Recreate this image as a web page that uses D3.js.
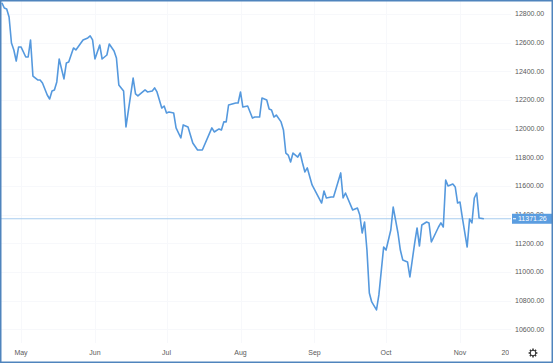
<!DOCTYPE html>
<html>
<head>
<meta charset="utf-8">
<script src="https://cdn.jsdelivr.net/npm/d3@7"></script>
<style>
  html, body { margin: 0; padding: 0; background: #fff; }
  svg { display: block; }
</style>
</head>
<body>
<svg id="chart"></svg>
<script>
(function() {

const W = 553, H = 363;
const lineColor = "#5599de";
const textColor = "#5a5a5a";

// closing values, one per reading (dates in 2021)
const dates = [
  "04-23","04-24","04-25","04-26","04-27","04-28","04-29","04-30",
  "05-01","05-03","05-04","05-05","05-06","05-08","05-09","05-10","05-12","05-13","05-14","05-15",
  "05-16","05-17","05-19","05-20","05-21","05-23","05-24","05-27","05-29","05-30","05-31",
  "06-01","06-03","06-04","06-06","06-07","06-09","06-10","06-11","06-13","06-14","06-17","06-18",
  "06-19","06-21","06-22","06-23","06-25","06-26","06-27","06-29","06-30",
  "07-01","07-02","07-04","07-05","07-07","07-08","07-10","07-12","07-14","07-16","07-20","07-21",
  "07-23","07-24","07-25","07-26","07-27","07-30","07-31",
  "08-01","08-02","08-04","08-06","08-07","08-09","08-10","08-12","08-13","08-14","08-15","08-16",
  "08-18","08-19","08-20","08-21","08-22","08-23","08-25","08-26","08-27","08-28","08-29","08-31",
  "09-04","09-05","09-06","09-08","09-09","09-12","09-13","09-14","09-17","09-19","09-20","09-21",
  "09-22","09-23","09-24","09-25","09-27","09-28","09-30",
  "10-01","10-03","10-04","10-06","10-07","10-08","10-10","10-11","10-13","10-14","10-15","10-16",
  "10-18","10-19","10-20","10-22","10-23","10-24","10-25","10-26","10-27","10-29","10-30","10-31",
  "11-01","11-02","11-04","11-05","11-06","11-07","11-08","11-09","11-11"
];
const closes = [
  12877,12842,12835,12779,12598,12549,12472,12570,
  12570,12500,12500,12619,12367,12340,12340,12319,12235,12207,12263,12270,
  12326,12486,12347,12458,12465,12563,12549,12619,12633,12647,12619,
  12486,12584,12486,12514,12591,12542,12493,12305,12263,12012,12353,12242,
  12228,12256,12270,12256,12263,12284,12256,12144,12158,
  12109,12116,12109,12005,11935,12026,12012,11900,11851,11851,12005,11977,
  11998,11991,12047,12047,12165,12179,12179,
  12256,12151,12158,12074,12081,12081,12214,12200,12137,12130,12081,12095,
  12047,11991,11830,11816,11767,11830,11802,11830,11760,11698,11726,11607,
  11481,11565,11516,11523,11523,11691,11516,11551,11433,11446,11398,11272,
  11349,11153,10853,10791,10735,10840,11174,
  11153,11293,11453,11272,11153,11084,11070,10965,11202,11307,11181,11328,
  11349,11342,11209,11279,11314,11342,11314,11642,11600,11614,11593,11481,
  11488,11377,11174,11370,11342,11516,11551,11377,11371.26
];

const priceTicks = [10600,10800,11000,11200,11400,11600,11800,12000,12200,12400,12600,12800];
const timeTicks = ["05-01","06-01","07-01","08-01","09-01","10-01","11-01","11-20"];
const timeLabels = ["May","Jun","Jul","Aug","Sep","Oct","Nov","20"];
const lastPrice = 11371.26;

const parse = d3.timeParse("%Y-%m-%d");
const data = dates.map((d, i) => ({ date: parse("2021-" + d), v: closes[i] }));

const svg = d3.select("#chart").attr("width", W).attr("height", H);

svg.append("rect").attr("width", W).attr("height", H).attr("fill", "#fff");

const paneRight = 511;

const x = d3.scaleTime()
    .domain([parse("2021-05-01"), parse("2021-11-01")])
    .range([21, 460]);
const y = d3.scaleLinear()
    .domain([10600, 12800])
    .range([329.3, 14]);

// grid (barely visible)
svg.append("g").selectAll("line")
    .data(priceTicks)
    .enter().append("line")
    .attr("x1", 0).attr("x2", paneRight)
    .attr("y1", d => Math.round(y(d)) + 0.5).attr("y2", d => Math.round(y(d)) + 0.5)
    .attr("stroke", "#f7f8fb");
svg.append("g").selectAll("line")
    .data(timeTicks.slice(0, 7))
    .enter().append("line")
    .attr("x1", d => Math.round(x(parse("2021-" + d))) + 0.5)
    .attr("x2", d => Math.round(x(parse("2021-" + d))) + 0.5)
    .attr("y1", 0).attr("y2", 343)
    .attr("stroke", "#f7f8fb");

// last price line
svg.append("line")
    .attr("x1", 0).attr("x2", paneRight)
    .attr("y1", y(lastPrice)).attr("y2", y(lastPrice))
    .attr("stroke", "#a9cdef")
    .attr("stroke-width", 1);

const line = d3.line()
    .x(d => x(d.date))
    .y(d => y(d.v));

svg.append("path")
    .datum(data)
    .attr("fill", "none")
    .attr("stroke", lineColor)
    .attr("stroke-width", 1.6)
    .attr("stroke-linejoin", "round")
    .attr("d", line);

// time axis labels (clipped by the price scale)
svg.append("clipPath").attr("id", "timeClip")
  .append("rect").attr("x", 0).attr("y", 340).attr("width", 509).attr("height", 20);

svg.append("g")
    .attr("clip-path", "url(#timeClip)")
    .selectAll("text")
    .data(timeTicks)
    .enter().append("text")
    .attr("x", d => x(parse("2021-" + d)))
    .attr("y", 353)
    .attr("dy", "0.35em")
    .attr("text-anchor", "middle")
    .attr("font-family", "Liberation Sans, Arial, sans-serif")
    .attr("font-size", "7px")
    .attr("fill", textColor)
    .text((d, i) => timeLabels[i]);

// price axis
svg.append("g").selectAll("text")
    .data(priceTicks)
    .enter().append("text")
    .attr("x", 515)
    .attr("y", d => y(d))
    .attr("dy", "0.35em")
    .attr("font-family", "Liberation Sans, Arial, sans-serif")
    .attr("font-size", "7px")
    .attr("fill", textColor)
    .text(d => d3.format(".2f")(d));

// last price tag
const ly = y(lastPrice);
svg.append("rect")
    .attr("x", 512).attr("y", ly - 5)
    .attr("width", 41).attr("height", 10)
    .attr("fill", "#5b9de0");
svg.append("line")
    .attr("x1", 513).attr("x2", 516)
    .attr("y1", ly).attr("y2", ly)
    .attr("stroke", "#fff");
svg.append("text")
    .attr("x", 518)
    .attr("y", ly)
    .attr("dy", "0.35em")
    .attr("font-family", "Liberation Sans, Arial, sans-serif")
    .attr("font-size", "7px")
    .attr("fill", "#fff")
    .text(d3.format(".2f")(lastPrice));

// settings gear
const gear = svg.append("g").attr("transform", "translate(533,353)");
gear.append("circle").attr("r", 2.8).attr("fill", "none").attr("stroke", "#333").attr("stroke-width", 1.1);
gear.selectAll("line")
    .data(d3.range(8))
    .enter().append("line")
    .attr("x1", d => 2.8 * Math.cos(d * Math.PI / 4))
    .attr("y1", d => 2.8 * Math.sin(d * Math.PI / 4))
    .attr("x2", d => 4.4 * Math.cos(d * Math.PI / 4))
    .attr("y2", d => 4.4 * Math.sin(d * Math.PI / 4))
    .attr("stroke", "#333")
    .attr("stroke-width", 1.5);

// frame
svg.append("rect")
    .attr("x", 0.75).attr("y", 0.75)
    .attr("width", W - 1.5).attr("height", H - 1.5)
    .attr("fill", "none")
    .attr("stroke", "#4f84bd")
    .attr("stroke-width", 1.5);

})();
</script>
</body>
</html>
